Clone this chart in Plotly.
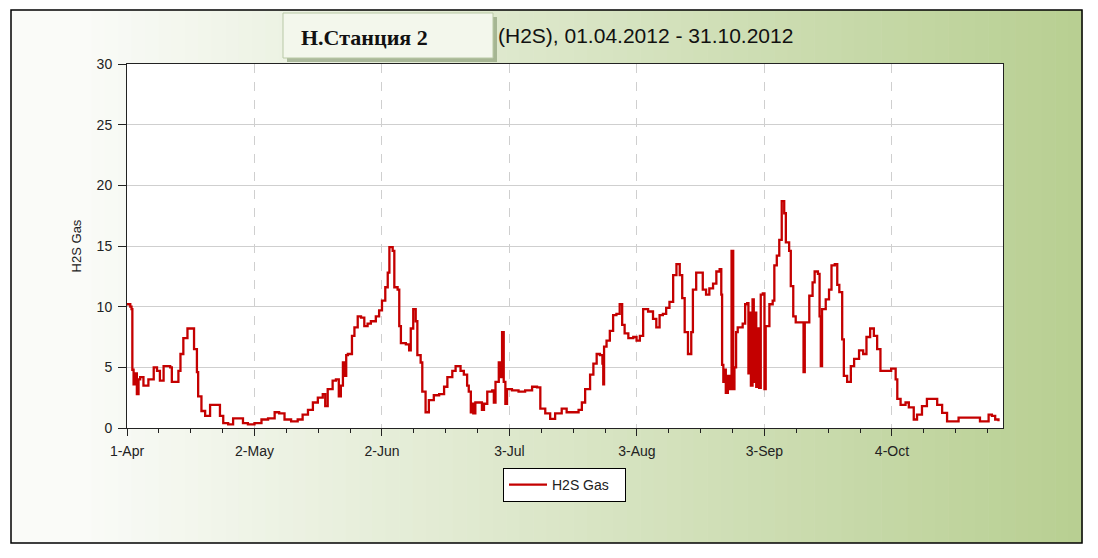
import pandas as pd
import plotly.graph_objects as go

# ---------------- data ----------------
start_date = "2012-04-01"
day_offsets = [
    0, 0.8, 1.1, 1.3, 1.6, 2.0, 2.4, 2.8, 3.2, 4.0, 5.2, 6.5, 7.3, 8.0, 8.9, 10.5, 10.9, 11.7,
    12.5, 13.0, 13.7, 14.7, 15.7, 16.3, 17.0, 17.3, 18.1, 19.0, 20.2, 21.8, 22.6, 23.4, 24.6,
    25.8, 27.0, 28.2, 29.4, 31.0, 32.7, 34.3, 35.9, 37.0, 38.3, 39.9, 41.5, 42.7, 44.0, 45.2,
    46.4, 47.6, 48.2, 48.8, 50.0, 50.8, 51.5, 52.0, 52.5, 52.9, 53.3, 53.7, 54.7, 55.3, 56.1,
    56.9, 57.7, 58.5, 59.3, 60.5, 61.3, 62.0, 62.8, 63.4, 63.8, 64.6, 65.0, 65.8, 66.2, 66.6,
    67.8, 68.6, 69.0, 69.6, 70.2, 70.6, 71.4, 71.8, 72.6, 73.4, 74.6, 75.9, 77.1, 77.9, 79.1,
    79.9, 81.1, 81.9, 82.7, 83.1, 83.6, 83.9, 84.2, 84.7, 85.9, 86.3, 86.8, 87.6, 88.8, 89.2,
    89.6, 90.4, 90.8, 91.2, 91.6, 92.0, 92.4, 93.6, 95.2, 96.8, 98.5, 99.7, 100.5, 101.7,
    102.9, 104.1, 105.7, 106.9, 108.1, 109.8, 110.6, 111.4, 112.6, 113.4, 114.2, 115.0,
    115.6, 115.8, 116.0, 116.6, 117.4, 118.2, 119.0, 119.8, 120.4, 121.0, 121.9, 123.1,
    123.9, 124.7, 125.5, 126.7, 127.9, 128.7, 129.5, 130.3, 131.1, 131.9, 132.8, 133.6,
    134.4, 135.0, 135.6, 136.4, 137.2, 137.6, 138.4, 139.2, 140.0, 140.8, 141.6, 142.5,
    143.3, 144.1, 144.5, 144.7, 145.0, 145.3, 145.6, 146.1, 146.5, 147.0, 147.4, 147.7,
    148.1, 148.5, 149.7, 150.3, 150.8, 151.1, 151.4, 151.7, 152.1, 152.4, 152.7, 153.0,
    153.4, 153.7, 154.1, 154.6, 155.0, 155.3, 156.2, 157.0, 157.4, 158.0, 158.6, 159.2,
    159.8, 160.2, 161.0, 161.4, 162.0, 162.6, 164.2, 164.5, 164.8, 165.9, 166.7, 167.2,
    168.0, 168.4, 168.7, 169.0, 169.9, 170.7, 171.3, 172.1, 172.7, 173.2, 173.9, 174.3,
    175.1, 176.0, 176.8, 178.0, 179.0, 179.8, 180.7, 181.6, 182.4, 183.2, 184.4, 185.8,
    186.9, 187.3, 188.1, 189.3, 190.1, 191.3, 192.1, 193.3, 194.5, 195.7, 197.0, 198.2,
    199.4, 200.6, 202.2, 204.2, 206.2, 207.4, 208.7, 209.5, 210.3, 211.1, 211.9,
]
h2s_values = [
    10.2, 10.0, 9.8, 4.8, 3.6, 4.5, 2.8, 4.0, 4.2, 3.5, 4.0, 5.0, 4.7, 3.9, 5.1, 5.0, 3.8, 3.8,
    4.7, 6.1, 7.4, 8.2, 8.2, 6.5, 4.6, 2.6, 1.4, 1.0, 1.9, 1.9, 1.0, 0.4, 0.3,
    0.8, 0.8, 0.4, 0.3, 0.4, 0.7, 0.8, 1.3, 1.2, 0.7, 0.55, 0.7, 1.1, 1.5, 2.1,
    2.5, 2.8, 1.8, 3.2, 3.9, 4.0, 2.6, 3.5, 5.4, 4.3, 6.0, 6.1, 7.6, 8.3, 9.2,
    9.1, 8.4, 8.6, 8.8, 9.2, 9.7, 10.5, 11.6, 12.8, 14.9, 14.6, 11.6, 11.4, 8.4, 7.0,
    6.9, 6.4, 8.2, 9.8, 8.8, 6.0, 5.4, 3.0, 1.3, 2.3, 2.7, 2.8, 3.4, 4.2, 4.7,
    5.1, 4.7, 4.4, 3.5, 3.0, 1.3, 2.0, 1.2, 2.1, 2.1, 1.5, 2.0, 3.0, 3.1, 2.1,
    3.8, 5.4, 4.2, 7.9, 3.8, 2.0, 3.2, 3.1, 3.0, 3.1, 3.4, 3.35, 1.6, 1.2,
    0.75, 1.2, 1.6, 1.3, 1.3, 1.5, 2.1, 3.2, 4.4, 5.3, 6.1, 6.0,
    5.3, 3.6, 6.7, 7.2, 8.0, 9.3, 9.4, 10.2, 8.5, 7.8, 7.4, 7.5,
    7.2, 7.6, 9.8, 9.6, 9.0, 8.3, 9.3, 9.4, 9.9, 10.4, 12.6, 13.5,
    12.6, 10.7, 7.9, 6.1, 7.9, 11.4, 12.8, 12.8, 11.4, 11.0, 11.5, 11.9,
    12.9, 13.1, 11.0, 5.2, 3.8, 4.8, 2.9, 4.3, 3.2, 14.6, 3.2, 5.0,
    7.9, 8.3, 8.6, 10.2, 10.3, 4.5, 9.5, 3.5, 10.6, 3.8, 9.5, 3.4,
    8.2, 3.3, 11.0, 11.1, 3.2, 8.4, 10.2, 10.5, 13.4, 14.2, 15.5, 18.7,
    17.7, 15.3, 14.6, 11.7, 9.2, 8.7, 8.7, 4.6, 8.7, 10.9, 12.0, 12.9,
    12.7, 9.2, 5.1, 9.8, 10.6, 11.4, 13.4, 13.5, 11.8, 11.2, 7.3, 4.3,
    3.8, 5.1, 5.7, 6.4, 6.1, 7.5, 8.2, 7.6, 6.5, 4.7, 4.7, 4.9,
    4.0, 2.4, 1.9, 2.1, 1.7, 0.7, 1.1, 1.8, 2.4, 2.4, 1.9, 1.25,
    0.55, 0.55, 0.85, 0.85, 0.85, 0.55, 0.55, 1.1, 1.0, 0.7, 0.55,
]
series_name = "H2S Gas"
y_axis_title = "H2S Gas"
station_label = "Н.Станция 2"
title_text = "(H2S), 01.04.2012 - 31.10.2012"
x_start = "2012-04-01"
x_end = "2012-10-31"
y_range = [0, 30]

# ---------------- figure ----------------
timestamps = pd.Timestamp(start_date) + pd.to_timedelta(day_offsets, unit="D")

OFF = 8  # page body margin
W, H = 1098 - OFF, 558 - OFF
# plot area in screenshot pixels: x 127..1003, y 64..428
L = 127 - OFF
T = 64 - OFF
R = W - (1003 - OFF)
B = H - (428 - OFF)
PW, PH = W - L - R, H - T - B


def px(xp):
    return (xp - OFF - L) / PW


def py(yp):
    return (H - B - (yp - OFF)) / PH


fig = go.Figure()
fig.add_trace(go.Scatter(
    x=timestamps, y=h2s_values, mode="lines", name=series_name,
    line=dict(color="#c40000", width=2.3, shape="hv"),
))

shapes = []
# gradient background (white -> soft green) inside frame
x0f, x1f, y0f, y1f = 11, 1082, 10, 543
n = 80
c0 = (250, 251, 248)
c1 = (184, 207, 146)
for i in range(n):
    t = i / (n - 1)
    tt = max(0.0, (t - 0.06) / 0.94)
    c = tuple(int(round(c0[k] + (c1[k] - c0[k]) * tt)) for k in range(3))
    xa = x0f + (x1f - x0f) * i / n
    xb = x0f + (x1f - x0f) * (i + 1) / n + 0.6
    shapes.append(dict(type="rect", xref="paper", yref="paper", layer="below",
                       x0=px(xa), x1=px(xb), y0=py(y1f), y1=py(y0f),
                       line=dict(width=0), fillcolor="rgb(%d,%d,%d)" % c))
# outer frame
shapes.append(dict(type="rect", xref="paper", yref="paper", layer="above",
                   x0=px(x0f), x1=px(x1f), y0=py(y1f), y1=py(y0f),
                   line=dict(color="black", width=1.5), fillcolor="rgba(0,0,0,0)"))
# white plot area
shapes.append(dict(type="rect", xref="paper", yref="paper", layer="below",
                   x0=0, x1=1, y0=0, y1=1, line=dict(width=0), fillcolor="white"))
# title box shadow + box
shapes.append(dict(type="rect", xref="paper", yref="paper", layer="below",
                   x0=px(287), x1=px(497), y0=py(62), y1=py(17),
                   line=dict(width=0), fillcolor="rgba(120,140,100,0.55)"))
shapes.append(dict(type="rect", xref="paper", yref="paper", layer="below",
                   x0=px(283), x1=px(493), y0=py(58), y1=py(13),
                   line=dict(color="#b9c9a6", width=1), fillcolor="#f3f7ec"))

fig.update_layout(
    width=W, height=H,
    margin=dict(l=L, r=R, t=T, b=B),
    paper_bgcolor="white",
    plot_bgcolor="white",
    shapes=shapes,
    showlegend=True,
    legend=dict(
        orientation="h",
        x=px(503), xanchor="left", y=py(468), yanchor="top",
        bgcolor="white", bordercolor="black", borderwidth=1,
        font=dict(family="Liberation Sans, Arial", size=14, color="#222"),
        itemwidth=38, entrywidth=68, entrywidthmode="pixels",
    ),
    annotations=[
        dict(text="<b>" + station_label + "</b>", xref="paper", yref="paper",
             x=px(299), y=py(37), xanchor="left", yanchor="middle", showarrow=False,
             font=dict(family="Liberation Serif, Times New Roman", size=22, color="#111")),
        dict(text=title_text, xref="paper", yref="paper",
             x=px(496), y=py(35), xanchor="left", yanchor="middle", showarrow=False,
             font=dict(family="Liberation Sans, Arial", size=21, color="#111")),
    ],
    font=dict(family="Liberation Sans, Arial", size=12, color="#222"),
)

fig.update_xaxes(
    type="date", range=[x_start, x_end],
    tick0=x_start, dtick=31 * 86400000, tickformat="%-d-%b",
    ticks="outside", ticklen=7, tickcolor="#222", tickwidth=1,
    showline=True, linecolor="#222", linewidth=1, mirror=True,
    showgrid=True, gridcolor="#cfcfcf", griddash="dash", gridwidth=1,
    minor=dict(tick0=x_start, dtick=31 * 86400000 / 4, ticks="outside", ticklen=4,
               tickcolor="#222", showgrid=False),
    tickfont=dict(size=14, color="#222"),
    ticklabelstandoff=3,
    zeroline=False,
)
fig.update_yaxes(
    range=y_range, tick0=0, dtick=5,
    ticks="outside", ticklen=8, tickcolor="#222",
    showline=True, linecolor="#222", linewidth=1, mirror=True,
    showgrid=True, gridcolor="#cfcfcf", gridwidth=1,
    zeroline=False,
    title=dict(text=y_axis_title, font=dict(size=13, color="#222"), standoff=12),
    tickfont=dict(size=14, color="#222"),
    ticklabelstandoff=3,
)

fig.write_html("out.html")
